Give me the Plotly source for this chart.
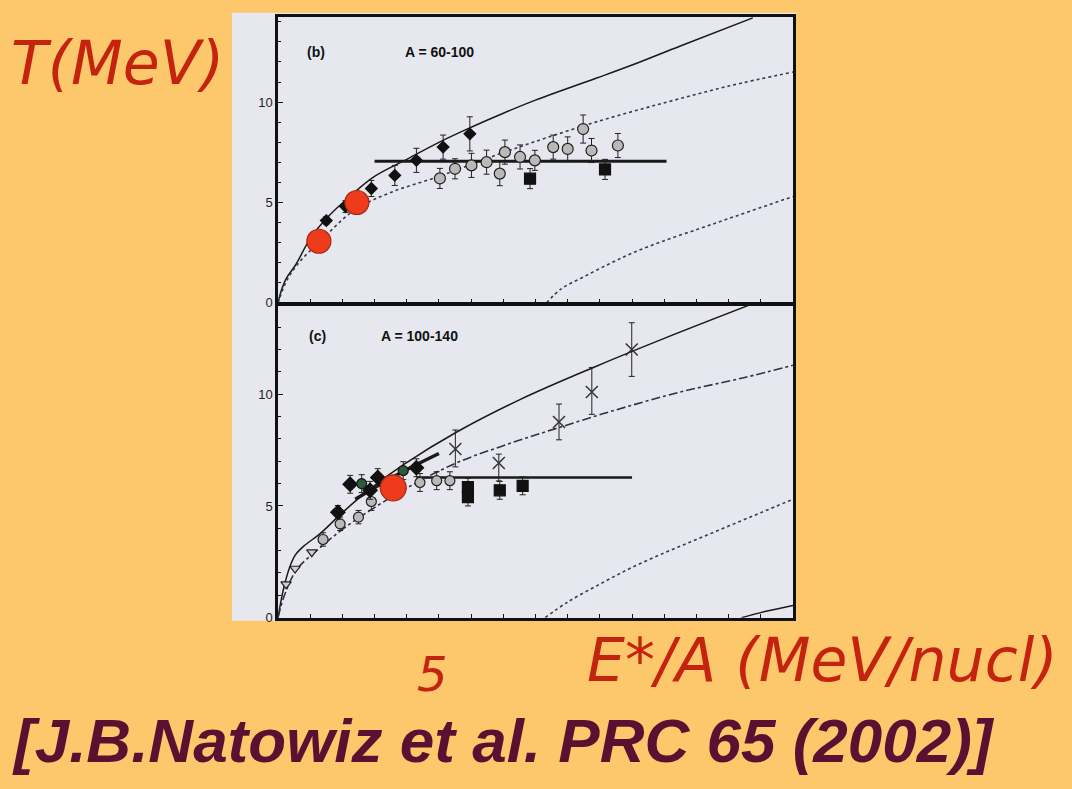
import plotly.graph_objects as go

# ---------------- data: panel (b) A = 60-100 ----------------
b_solid_E = [0, 0.1, 0.25, 0.55, 1.0, 1.5, 2.3, 3.0, 4.0, 5.0, 6.0, 7.0, 8.0, 9.9, 11.0, 12.5, 14.75]
b_solid_T = [0, 0.6, 1.2, 1.9, 3.2, 4.2, 5.4, 6.3, 7.15, 8.0, 8.75, 9.45, 10.1, 11.2, 11.85, 12.8, 14.2]
b_dot1_E = [0, 0.3, 0.7, 1.27, 2.35, 3.5, 5.0, 6.5, 7.92, 10.0, 12.08, 14.0, 16.0]
b_dot1_T = [0, 1.2, 2.1, 3.0, 4.6, 5.5, 6.3, 7.2, 8.0, 9.07, 10.0, 10.8, 11.5]
b_dot2_E = [8.34, 8.8, 9.5, 10.3, 11.03, 12.0, 13.1, 14.0, 15.0, 16.0]
b_dot2_T = [0.0, 0.7, 1.3, 1.95, 2.5, 3.1, 3.7, 4.2, 4.75, 5.3]
b_plateau_E = [3.0, 12.07]
b_plateau_T = [7.05, 7.05]

b_circ_E = [5.03, 5.5, 6.01, 6.48, 6.89, 7.05, 7.52, 7.98, 8.55, 9.0, 9.48, 9.74, 10.56]
b_circ_T = [6.2, 6.68, 6.85, 7.01, 6.44, 7.51, 7.27, 7.1, 7.76, 7.67, 8.66, 7.59, 7.84]
b_circ_err = [0.5, 0.5, 0.6, 0.6, 0.6, 0.6, 0.6, 0.5, 0.6, 0.6, 0.7, 0.6, 0.6]
b_diam_E = [1.5, 2.1, 2.9, 3.63, 4.3, 5.13, 5.96]
b_diam_T = [4.1, 4.8, 5.7, 6.35, 7.1, 7.76, 8.42]
b_diam_err = [0.2, 0.3, 0.4, 0.5, 0.6, 0.6, 0.85]
b_sq_E = [7.83, 10.16]
b_sq_T = [6.19, 6.65]
b_sq_err = [0.5, 0.5]
b_red_E = [1.27, 2.45]
b_red_T = [3.07, 5.0]

# ---------------- data: panel (c) A = 100-140 ----------------
c_solid_E = [0, 0.1, 0.2, 0.35, 0.53, 0.8, 1.3, 2.0, 2.8, 3.9, 5.54, 7.5, 9.8, 12.0, 14.66]
c_solid_T = [0, 0.8, 1.46, 2.2, 2.79, 3.2, 3.75, 4.7, 5.7, 6.85, 8.3, 9.75, 11.2, 12.5, 14.0]
c_dash_E = [0, 0.2, 0.58, 1.2, 2.0, 2.86, 4.0, 5.5, 7.0, 8.6, 10.5, 12.5, 14.5, 16.0]
c_dash_T = [0, 1.0, 2.15, 3.0, 3.95, 4.8, 5.8, 6.9, 7.7, 8.45, 9.3, 10.1, 10.75, 11.3]
c_dot_E = [8.3, 9.0, 10.0, 11.0, 12.05, 13.0, 14.0, 15.0, 16.0]
c_dot_T = [0.0, 0.7, 1.5, 2.25, 2.93, 3.5, 4.1, 4.7, 5.3]
c_edge_E = [14.4, 15.2, 16.0]
c_edge_T = [0.0, 0.3, 0.55]
c_seg_E = [2.4, 3.7, 5.0]
c_seg_T = [5.3, 6.4, 7.35]
c_plateau_E = [4.3, 11.0]
c_plateau_T = [6.27, 6.27]

c_x_E = [5.51, 6.86, 8.73, 9.75, 10.99]
c_x_T = [7.55, 6.92, 8.76, 10.1, 12.0]
c_x_errp = [0.85, 0.4, 0.8, 1.1, 1.2]
c_x_errm = [0.8, 0.8, 0.8, 1.0, 1.2]
c_sq_E = [5.9, 5.9, 6.89, 7.6]
c_sq_T = [5.84, 5.4, 5.7, 5.9]
c_sq_err = [0.4, 0.4, 0.4, 0.4]
c_circ_E = [1.4, 1.93, 2.5, 2.9, 4.41, 4.93, 5.34]
c_circ_T = [3.5, 4.2, 4.5, 5.2, 6.05, 6.13, 6.13]
c_circ_err = [0.3, 0.3, 0.3, 0.4, 0.4, 0.4, 0.4]
c_tri_E = [0.25, 0.53, 1.05]
c_tri_T = [1.5, 2.2, 2.93]
c_fill_E = [1.86, 2.24, 2.86, 3.1, 4.3]
c_fill_T = [4.72, 5.97, 5.7, 6.27, 6.71]
c_fill_err = [0.3, 0.4, 0.4, 0.4, 0.4]
c_green_E = [2.6, 3.89]
c_green_T = [6.0, 6.58]
c_red_E = [3.58]
c_red_T = [5.81]

y_tickvals = [0, 5, 10]

# ---------------- figure ----------------
W, H = 1072, 789
ORANGE = "#fdc86c"
SCAN = "#e7e7f0"
RED = "#c4240f"

fig = go.Figure()


def add_line(E, T, ax, dash="solid", width=1.5, color="#1a1a1a", shape="spline"):
    fig.add_trace(go.Scatter(x=E, y=T, mode="lines", xaxis="x" + ax, yaxis="y" + ax,
                             line=dict(color=color, width=width, dash=dash, shape=shape),
                             hoverinfo="skip", showlegend=False))


def add_pts(E, T, ax, symbol, size, fill, outline, errp=None, errm=None, lw=1.2):
    ey = None
    if errp is not None:
        ey = dict(type="data", array=errp, arrayminus=errm if errm is not None else errp,
                  color="#222", thickness=1, width=3, visible=True)
    fig.add_trace(go.Scatter(x=E, y=T, mode="markers", xaxis="x" + ax, yaxis="y" + ax,
                             marker=dict(symbol=symbol, size=size, color=fill,
                                         line=dict(color=outline, width=lw)),
                             error_y=ey, showlegend=False))


# panel b (axes x / y)
add_line(b_solid_E, b_solid_T, "")
add_line(b_dot1_E, b_dot1_T, "", dash="dot", width=1.6, color="#3a3a4a")
add_line(b_dot2_E, b_dot2_T, "", dash="dot", width=1.6, color="#3a3a4a")
add_line(b_plateau_E, b_plateau_T, "", width=3, shape="linear")
add_pts(b_circ_E, b_circ_T, "", "circle", 11, "#b9b9b9", "#202020", b_circ_err)
add_pts(b_diam_E, b_diam_T, "", "diamond", 9, "#111", "#111", b_diam_err)
add_pts(b_sq_E, b_sq_T, "", "square", 11, "#111", "#111", b_sq_err)
add_pts(b_red_E, b_red_T, "", "circle", 24, "#ee3b1c", "#a8260e", lw=1.2)

# panel c (axes x2 / y2)
add_line(c_solid_E, c_solid_T, "2")
add_line(c_dash_E, c_dash_T, "2", dash="dashdot", width=1.6, color="#303040")
add_line(c_dot_E, c_dot_T, "2", dash="dot", width=1.6, color="#3a3a4a")
add_line(c_edge_E, c_edge_T, "2", width=1.5)
add_line(c_seg_E, c_seg_T, "2", width=3.5)
add_line(c_plateau_E, c_plateau_T, "2", width=2.5, shape="linear")
add_pts(c_x_E, c_x_T, "2", "x-thin-open", 12, "#333", "#333", c_x_errp, c_x_errm, lw=1.5)
add_pts(c_circ_E, c_circ_T, "2", "circle", 10, "#b9b9b9", "#202020", c_circ_err)
add_pts(c_tri_E, c_tri_T, "2", "triangle-down", 9, "#cfcfcf", "#202020")
add_pts(c_fill_E, c_fill_T, "2", "diamond", 11, "#111", "#111", c_fill_err)
add_pts(c_green_E, c_green_T, "2", "circle", 10, "#2c5a3c", "#111", [0.4, 0.4])
add_pts(c_sq_E, c_sq_T, "2", "square", 11, "#111", "#111", c_sq_err)
add_pts(c_red_E, c_red_T, "2", "circle", 26, "#ee3b1c", "#a8260e", lw=1.2)

x0, x1 = 278 / W, 793 / W
yb = [1 - 306 / H, 1 - 17 / H]
yc = [1 - 624 / H, 1 - 308 / H]

xcommon = dict(range=[0, 16], showline=True, linecolor="#111", linewidth=2.5, mirror=True,
               ticks="inside", ticklen=4, tickcolor="#111", dtick=1, showticklabels=False,
               showgrid=False, zeroline=False, domain=[x0, x1])
ycommon = dict(showline=True, linecolor="#111", linewidth=2.5, mirror=True,
               ticks="inside", ticklen=5, tickcolor="#111", tickvals=y_tickvals,
               minor=dict(dtick=1, ticks="inside", ticklen=3, tickcolor="#111"),
               tickfont=dict(family="Liberation Sans", size=13, color="#222"),
               showgrid=False, zeroline=False)

fig.update_layout(
    width=W, height=H, margin=dict(l=0, r=0, t=0, b=0),
    paper_bgcolor=ORANGE, plot_bgcolor=SCAN, showlegend=False,
    xaxis=dict(**xcommon, anchor="y"),
    yaxis=dict(**ycommon, range=[0, 14.25], domain=yb, anchor="x"),
    xaxis2=dict(**xcommon, anchor="y2"),
    yaxis2=dict(**ycommon, range=[0, 14.0], domain=yc, anchor="x2"),
    shapes=[dict(type="rect", xref="paper", yref="paper", layer="below",
                 x0=232 / W, x1=796 / W, y0=1 - 627 / H, y1=1 - 13 / H,
                 fillcolor=SCAN, line=dict(width=0))],
)


def paper_text(text, px, py, size, color, family="DejaVu Sans"):
    return dict(text=text, x=px / W, y=1 - py / H, xref="paper", yref="paper",
                xanchor="center", yanchor="middle", showarrow=False,
                font=dict(family=family, size=size, color=color))


ann = []
lab = dict(family="Liberation Sans", size=14, color="#111")
for t, ex, ty, xr, yr in [("<b>(b)</b>", 1.18, 12.5, "x", "y"),
                          ("<b>A = 60-100</b>", 5.03, 12.5, "x", "y"),
                          ("<b>(c)</b>", 1.24, 12.6, "x2", "y2"),
                          ("<b>A = 100-140</b>", 4.4, 12.6, "x2", "y2")]:
    ann.append(dict(text=t, x=ex, y=ty, xref=xr, yref=yr, xanchor="center", yanchor="middle",
                    showarrow=False, font=lab))

ann.append(paper_text("<i>T(MeV)</i>", 117, 64, 60, RED))
ann.append(paper_text("<i>E*/A (MeV/nucl)</i>", 822, 667, 60, RED))
ann.append(paper_text("<i>5</i>", 432, 681, 48, RED))
ann.append(paper_text("<b><i>[J.B.Natowiz et al. PRC 65 (2002)]</i></b>", 503, 748, 62, "#5a1030",
                      family="Liberation Sans"))
fig.update_layout(annotations=ann)

fig.write_html("out.html", config={"displayModeBar": False},
               post_script="document.body.style.margin='0';document.body.style.overflow='hidden';")
